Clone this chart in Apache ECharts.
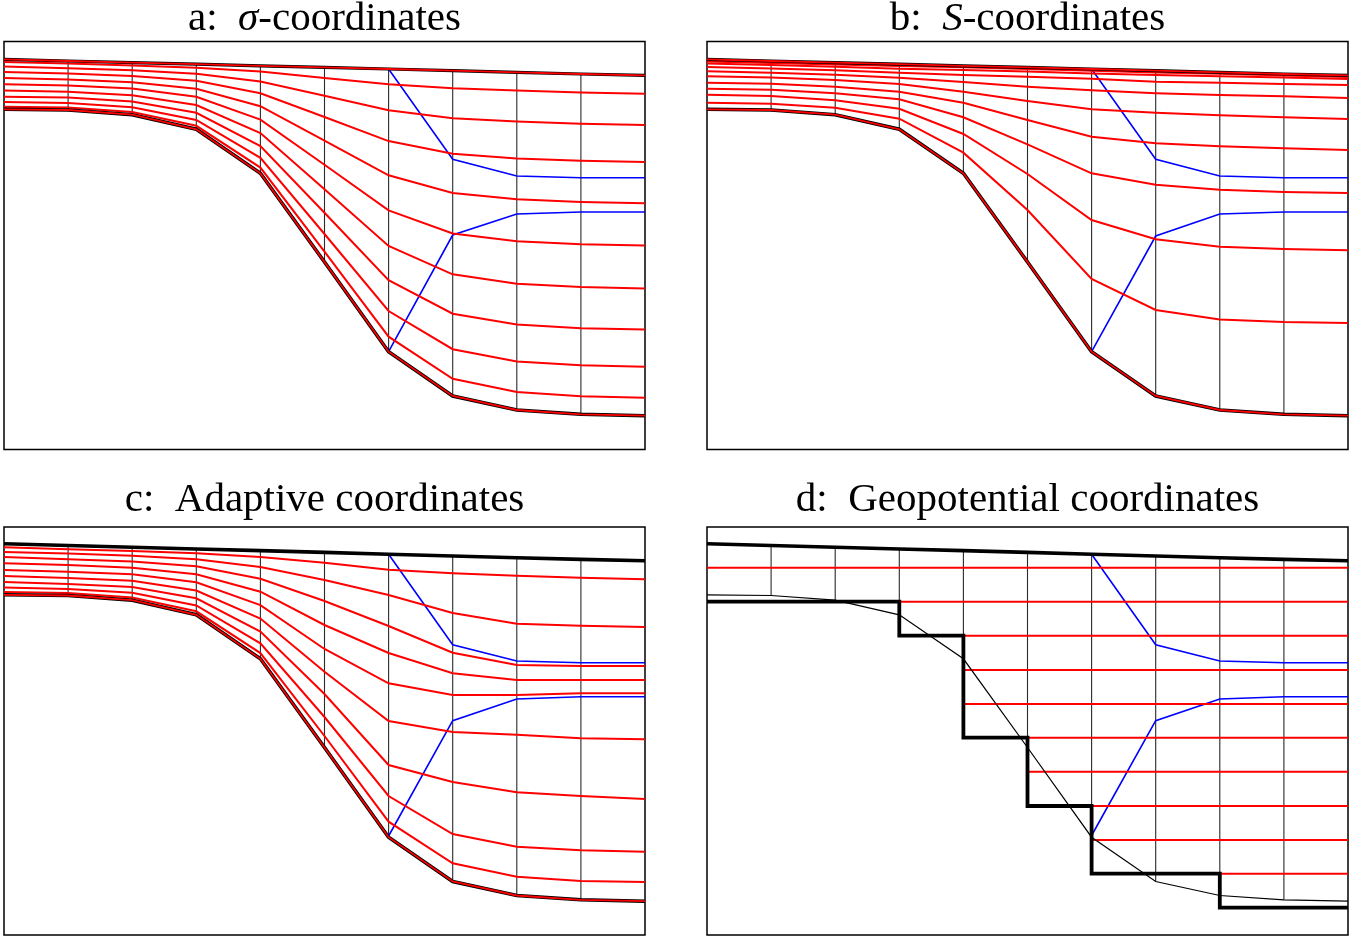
<!DOCTYPE html>
<html>
<head>
<meta charset="utf-8">
<script src="https://cdn.jsdelivr.net/npm/echarts@6/dist/echarts.min.js"></script>
<style>html,body{margin:0;padding:0;background:#fff}#c{width:1367px;height:939px}</style>
</head>
<body>
<div id="c"></div>
<script>
const nodes = [0,1,2,3,4,5,6,7,8,9,10];
const surface = [17.8,19.5,21.1,22.7,24.3,25.9,27.5,29.2,30.8,32.5,33.8];
const surfaceLower = [16.8,18.5,20.3,22,23.6,25.4,27.2,29,30.8,32.4,33.8];
const bottom = [67.8,68.5,73.2,87.8,131.8,220.5,310.2,354.5,368.5,372.8,374.2];

const sigmaLayers = [
  [20.5,22.1,23.9,26.2,30.1,36.4,42.8,46.8,49,50.9,52.2],
  [25.1,26.7,28.7,32.2,40,54.3,68.8,76.7,80.1,82.2,83.5],
  [30.6,32,34.4,39.3,51.7,75.5,99.6,112.2,116.9,119.3,120.6],
  [36.6,37.9,40.7,47.2,64.7,99.1,133.8,151.5,157.8,160.5,161.8],
  [42.8,44,47.1,55.3,78.1,123.2,168.9,191.9,199.7,202.7,204],
  [49.1,50.2,53.7,63.5,91.6,147.7,204.5,232.8,242.2,245.5,246.9],
  [55.2,56.1,60,71.3,104.6,171.3,238.7,272.2,283.1,286.7,288.1],
  [60.6,61.4,65.7,78.4,116.3,192.5,269.5,307.7,319.9,323.8,325.2],
  [65.2,65.9,70.4,84.3,126.1,210.2,295.2,337.3,350.6,354.8,356.2]
];
const sLayers = [
  [20,21.5,23,24.6,25.8,27.6,29.3,31,32.2,34,35.4],
  [22,23.5,25.2,27.2,28.5,30,32,33.5,34.8,36,37.5],
  [25.5,26.9,28.8,31.2,33.5,35.2,37.2,40.2,41.2,42.5,43.5],
  [29.8,31.2,33.2,36.2,40.5,45.2,48.8,51.8,53.5,54.8,56.5],
  [34.8,36,38.5,42.5,50.2,59.5,67.8,71.2,73.8,75.8,77.5],
  [41.2,42.2,45.2,50.2,61.2,78.5,95.2,101.8,104.8,106.8,108.5],
  [47.2,48.2,51.8,57.8,75.8,102.8,131.8,143.2,148.2,150.5,151.5],
  [53.2,54.5,58.8,67.2,92.5,132.5,178.5,197.8,205.2,207.5,208.8],
  [61.2,62.2,66.2,77.2,111.2,168.5,237.5,268.5,278,280.5,281.5]
];
const adaptiveLayers = [
  [20.2,22.2,24,26.2,30.1,35.7,42.7,46.3,48.7,50.7,52.3],
  [25,26.5,28.7,32.2,40,53,68,86,96.7,98.7,100],
  [30,32.2,34.6,39.3,51.7,74,99,125.7,138,139,139],
  [36.3,38,40.8,47.2,64.7,98,126,146.3,153,153,153],
  [43,44.8,47.2,55.3,78.1,122,156.3,168,168,166.3,166.3],
  [48.9,51,53.8,63.5,91.6,144.7,194,205,207.7,211.3,212.3],
  [54.9,57,60,71.3,104.6,167,238,255,265.3,269,272],
  [60.5,62,65.7,78.4,116.3,190,269,307,319.7,323.3,324.7],
  [65,66,70.4,84.3,126.1,209,294.7,336.3,349.7,354,355]
];
// Geopotential: level depth and the node at which that level starts
const geoDepths = [40.7,74.7,108.7,143,177,210.7,244.7,279,313,346.7];
const geoStarts = [0,3,4,4,4,5,5,6,6,8];
const stairX = [0,3,3,4,4,5,5,6,6,8,8,10];
const stairY = [74.7,74.7,108.7,108.7,210.7,210.7,279,279,346.7,346.7,380.7,380.7];

// Blue tracer lines, nodes 6 to 10
const blueNodes = [6,7,8,9,10];
const blueUpperA = [27.5,117.8,134.5,136.2,136.2];
const blueLowerA = [310.2,193.5,172.5,170.5,170.5];
const blueUpperB = [27.5,117.8,134.5,136.2,136.2];
const blueLowerB = [310.2,194.5,172.5,170.5,170.5];
const blueUpperC = [27.3,117.7,134,135.7,135.7];
const blueLowerC = [309,193.7,172,169.7,169.7];
const blueUpperD = [27.3,117.7,134,135.7,135.7];
const blueLowerD = [308.5,193.7,172,169.7,169.7];

const titles = ['a:  {i|σ}-coordinates','b:  {i|S}-coordinates','c:  Adaptive coordinates','d:  Geopotential coordinates'];
const FONT = '"Liberation Serif"';

const panels = [
  {left:4,  top:41.5, cx:319.5,  ty:-6},
  {left:707,top:41.5, cx:1022.5, ty:-6},
  {left:4,  top:527,  cx:319.5,  ty:475},
  {left:707,top:527,  cx:1022.5, ty:475}
];

const series = [];
function line(p, data, color, width, z){
  series.push({type:'line', xAxisIndex:p, yAxisIndex:p, data, symbol:'none', silent:true,
    animation:false, smooth:false, clip:true, z,
    lineStyle:{color, width, join:'miter', cap:'butt'}});
}
const zip = (xs, ys) => xs.map((x,i)=>[x,ys[i]]);
const RED='#ff0000', BLUE='#0000ff', BLACK='#000000', GRID='#2a2a2a';

function common(p, top, blueU, blueL){
  nodes.forEach(i => { if(i>0 && i<10) line(p, [[i,top[i]],[i,bottom[i]]], GRID, 1.1, 2); });
  line(p, zip(blueNodes, blueU), BLUE, 1.6, 3);
  line(p, zip(blueNodes, blueL), BLUE, 1.6, 3);
}
// a
common(0, surface, blueUpperA, blueLowerA);
sigmaLayers.forEach(l => line(0, zip(nodes,l), RED, 2, 4));
line(0, zip(nodes,surface), BLACK, 3.2, 5);
line(0, zip(nodes,bottom), BLACK, 3.6, 5);
line(0, zip(nodes,surface), RED, 1.8, 6);
line(0, zip(nodes,bottom), RED, 1.8, 6);
// b
common(1, surface, blueUpperB, blueLowerB);
sLayers.forEach(l => line(1, zip(nodes,l), RED, 2, 4));
line(1, zip(nodes,surface), BLACK, 3.2, 5);
line(1, zip(nodes,bottom), BLACK, 3.6, 5);
line(1, zip(nodes,surface), RED, 1.8, 6);
line(1, zip(nodes,bottom), RED, 1.8, 6);
// c
common(2, surfaceLower, blueUpperC, blueLowerC);
adaptiveLayers.forEach(l => line(2, zip(nodes,l), RED, 2, 4));
line(2, zip(nodes,bottom), BLACK, 3.6, 5);
line(2, zip(nodes,bottom), RED, 1.8, 6);
line(2, zip(nodes,surfaceLower), BLACK, 3.6, 6);
// d
common(3, surfaceLower, blueUpperD, blueLowerD);
geoDepths.forEach((d,k) => line(3, [[geoStarts[k],d],[10,d]], RED, 2, 4));
line(3, zip(nodes,bottom), BLACK, 1.2, 5);
line(3, zip(stairX,stairY), BLACK, 3.8, 6);
line(3, zip(nodes,surfaceLower), BLACK, 3.6, 6);

const option = {
  animation:false,
  backgroundColor:'#fff',
  title: panels.map((p,i)=>({
    text:titles[i], left:p.cx, top:p.ty, textAlign:'center',
    textStyle:{fontFamily:FONT, fontSize:41, fontWeight:'normal', color:'#000',
      rich:{i:{fontFamily:FONT, fontStyle:'italic', fontSize:41, color:'#000'}}}
  })),
  grid: panels.map(p=>({left:p.left, top:p.top, width:641, height:408, show:true,
    borderColor:'#000', borderWidth:1.5, backgroundColor:'transparent', containLabel:false})),
  xAxis: panels.map((p,i)=>({type:'value', gridIndex:i, min:0, max:10, show:false})),
  yAxis: panels.map((p,i)=>({type:'value', gridIndex:i, min:0, max:408, inverse:true, show:false})),
  series
};
echarts.init(document.getElementById('c'), null, {renderer:'canvas'}).setOption(option);
</script>
</body>
</html>
